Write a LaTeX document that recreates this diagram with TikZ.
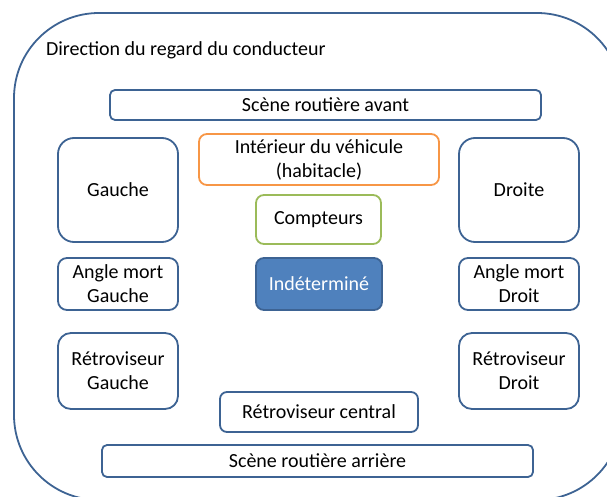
\documentclass[tikz,border=0pt]{standalone}
\usepackage{fontspec}
\setmainfont{Carlito}
\definecolor{bdblue}{HTML}{3D6393}
\definecolor{bdorange}{HTML}{F79646}
\definecolor{bdgreen}{HTML}{9BBB59}
\definecolor{fillblue}{HTML}{4F81BD}
\begin{document}
\begin{tikzpicture}[x=1pt,y=-1pt,
  every node/.style={font=\fontsize{20}{24}\selectfont, align=center, inner sep=0pt, outer sep=0pt},
  box/.style={draw=bdblue, line width=1.8pt, fill=white, text=black},
]
\useasboundingbox (0,0) rectangle (607,497);
\begin{scope}
\clip (0,0) rectangle (607,497);
\draw[bdblue, line width=1.8pt, rounded corners=85pt] (14,13) rectangle (622,500);
\end{scope}
\node[anchor=west] (title) at (46,50) {Direction du regard du conducteur};
\node[box, rounded corners=5pt, minimum width=431, minimum height=30] (avant) at (325.5,105) {Scène routière avant};
\node[box, rounded corners=16pt, minimum width=120, minimum height=104] (gauche) at (118,190) {Gauche};
\node[box, rounded corners=16pt, minimum width=120, minimum height=104] (droite) at (519,190) {Droite};
\node[box, draw=bdorange, rounded corners=8pt, minimum width=240, minimum height=51] (interieur) at (319,159.5) {Intérieur du véhicule\\(habitacle)};
\node[box, draw=bdgreen, rounded corners=8pt, minimum width=125, minimum height=49] (compteurs) at (318.5,219.5) {Compteurs};
\node[box, fill=fillblue, text=white, rounded corners=8pt, minimum width=126, minimum height=52] (indet) at (319,284) {Indéterminé};
\node[box, rounded corners=9pt, minimum width=120, minimum height=52] (amg) at (118,284) {Angle mort\\Gauche};
\node[box, rounded corners=9pt, minimum width=120, minimum height=52] (amd) at (519,284) {Angle mort\\Droit};
\node[box, rounded corners=13pt, minimum width=120, minimum height=76] (rg) at (118,371) {Rétroviseur\\Gauche};
\node[box, rounded corners=13pt, minimum width=120, minimum height=76] (rd) at (519,371) {Rétroviseur\\Droit};
\node[box, rounded corners=7pt, minimum width=198, minimum height=40] (central) at (319,412) {Rétroviseur central};
\node[box, rounded corners=5pt, minimum width=431, minimum height=32] (arriere) at (317.5,461) {Scène routière arrière};
\end{tikzpicture}
\end{document}
